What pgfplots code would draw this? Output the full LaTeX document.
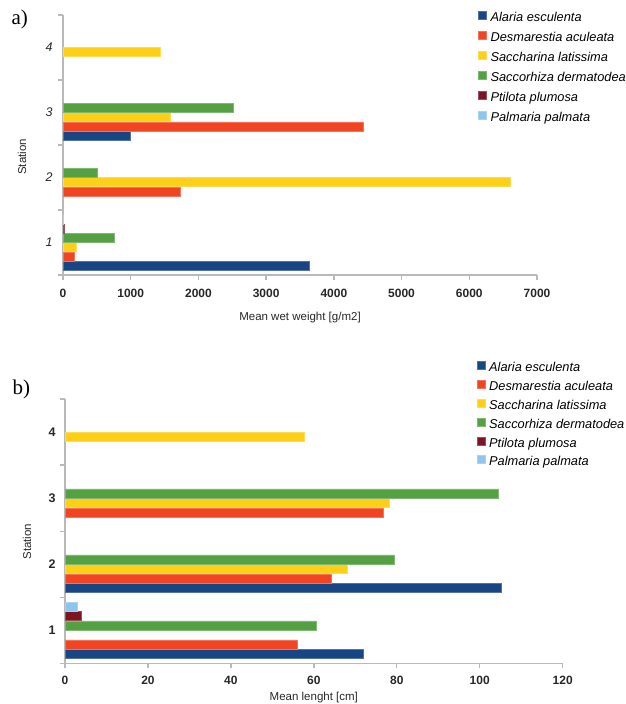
\documentclass[border=0pt]{standalone}
\usepackage{pgfplots}
\pgfplotsset{compat=1.18}
\usepackage{fontspec}
\setmainfont{Liberation Sans}
\newfontfamily\seriffont{Liberation Serif}

\definecolor{alaria}{RGB}{24,70,132}
\definecolor{desmarestia}{RGB}{240,68,35}
\definecolor{saccharina}{RGB}{253,208,23}
\definecolor{saccorhiza}{RGB}{84,160,67}
\definecolor{ptilota}{RGB}{125,20,35}
\definecolor{palmaria}{RGB}{140,198,236}
\definecolor{axisgrey}{RGB}{185,185,185}
\definecolor{labelgrey}{RGB}{40,40,40}

\pgfplotsset{
  species/.style 2 args={fill=#1, draw=#1!75!white, line width=0.4pt, bar shift=#2},
  algae/.style={
    scale only axis,
    xbar,
    axis x line*=bottom,
    axis y line*=left,
    axis line style={draw=axisgrey, line width=1.3pt},
    tick style={draw=axisgrey, line width=1.3pt},
    tick align=outside,
    major tick length=5pt,
    ymin=0.5, ymax=4.5,
    ytick={0.5,1.5,2.5,3.5,4.5},
    yticklabels={},
    extra y ticks={1,2,3,4},
    extra y tick labels={1,2,3,4},
    extra y tick style={major tick length=0pt},
    /pgf/number format/assume math mode=true,
    /pgf/number format/1000 sep={},
    scaled x ticks=false,
    label style={font=\fontsize{11.5}{13}\selectfont, text=labelgrey},
    legend style={draw=none, fill=none, inner sep=0pt,
      font=\itshape\fontsize{12.8}{14}\selectfont,
      nodes={inner sep=0pt, text height=8.5pt, text depth=2.5pt},
      /tikz/every odd column/.append style={column sep=4pt},
      legend cell align=left},
    legend image code/.code={\fill[##1] (0pt,-0.8pt) rectangle (8pt,7.2pt);},
  },
}

\begin{document}
\begin{tikzpicture}
\useasboundingbox (0,0) rectangle (625pt,-704pt);

% a) biomass per station
\begin{axis}[algae,
  at={(63pt,-275pt)}, anchor=south west,
  width=474pt, height=260pt,
  bar width=9pt,
  xmin=0, xmax=7000,
  xtick={0,1000,...,7000},
  xticklabel style={font=\bfseries\fontsize{12}{14}\selectfont, text=labelgrey, yshift=-6pt},
  yticklabel style={font=\itshape\fontsize{12.5}{14}\selectfont, text=labelgrey, xshift=-7pt},
  xlabel={Mean wet weight [g/m2]},
  ylabel={Station},
  x label style={at={(axis description cs:0.5,-0.165)}, anchor=center},
  y label style={at={(axis description cs:-0.0865,0.454)}, anchor=center, rotate=0},
  legend style={at={(axis description cs:0.8755,1.0175)}, anchor=north west, row sep=7.2pt},
]
\addplot[species={alaria}{-23.25pt}] coordinates {(3630,1) (990,3)};
\addplot[species={desmarestia}{-13.95pt}] coordinates {(170,1) (1730,2) (4430,3)};
\addplot[species={saccharina}{-4.65pt}] coordinates {(190,1) (6610,2) (1580,3) (1440,4)};
\addplot[species={saccorhiza}{4.65pt}] coordinates {(750,1) (500,2) (2510,3)};
\addplot[species={ptilota}{13.95pt}] coordinates {(15,1)};
\addplot[species={palmaria}{23.25pt}] coordinates {(8,1)};
\legend{Alaria esculenta, Desmarestia aculeata, Saccharina latissima,
  Saccorhiza dermatodea, Ptilota plumosa, Palmaria palmata}
\end{axis}

% b) thallus length per station
\begin{axis}[algae,
  at={(65pt,-663.3pt)}, anchor=south west,
  width=497.7pt, height=264.3pt,
  bar width=9.1pt,
  xmin=0, xmax=120,
  xtick={0,20,...,120},
  xticklabel style={font=\bfseries\fontsize{12}{14}\selectfont, text=labelgrey, yshift=-4pt},
  yticklabel style={font=\bfseries\fontsize{12.5}{14}\selectfont, text=labelgrey, xshift=-6pt},
  xlabel={Mean lenght [cm]},
  ylabel={Station},
  x label style={at={(axis description cs:0.5,-0.128)}, anchor=center},
  y label style={at={(axis description cs:-0.0764,0.46)}, anchor=center, rotate=0},
  legend style={at={(axis description cs:0.827,1.143)}, anchor=north west, row sep=5.9pt},
]
\addplot[species={alaria}{-23.75pt}] coordinates {(71.8,1) (105.1,2)};
\addplot[species={desmarestia}{-14.25pt}] coordinates {(56.0,1) (64.1,2) (76.7,3)};
\addplot[species={saccharina}{-4.75pt}] coordinates {(68.0,2) (78.1,3) (57.7,4)};
\addplot[species={saccorhiza}{4.75pt}] coordinates {(60.5,1) (79.4,2) (104.5,3)};
\addplot[species={ptilota}{14.25pt}] coordinates {(4.0,1)};
\addplot[species={palmaria}{23.75pt}] coordinates {(3.0,1)};
\legend{Alaria esculenta, Desmarestia aculeata, Saccharina latissima,
  Saccorhiza dermatodea, Ptilota plumosa, Palmaria palmata}
\end{axis}

\node[anchor=west, font=\seriffont\fontsize{21}{21}\selectfont] at (8pt,-19pt) {a)};
\node[anchor=west, font=\seriffont\fontsize{21}{21}\selectfont] at (9pt,-389pt) {b)};
\end{tikzpicture}
\end{document}
